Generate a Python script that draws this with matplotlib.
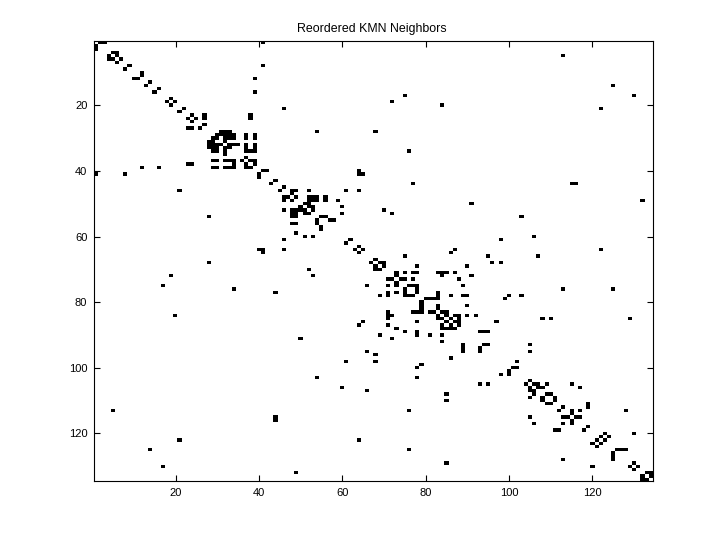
import numpy as np
import matplotlib
matplotlib.use("Agg")
import matplotlib.pyplot as plt

plt.rcParams['font.family'] = ['Liberation Sans', 'DejaVu Sans']

size = 134
title_text = "Reordered KMN Neighbors"
tick_values = [20, 40, 60, 80, 100, 120]

links_a = [(1,2),(1,3),(1,41),(4,5),(4,6),(5,6),(6,7),(8,9),(8,41),(10,12),(11,12),(12,39),
           (13,14),(15,16),(16,39),(18,19),(19,20),(21,22),(23,24),(24,25),(23,27),(24,27),(26,27),
           (23,38),(24,38),(5,113),(14,125),(17,75),(17,130),(19,72),(20,84),(21,46),(21,122),
           (28,54),(28,68),(34,76),(40,64),(41,64),(41,65),(44,77),(44,115),(44,116),(43,44),
           (40,41),(40,42)]
links_b = [(28,31),(28,32),(28,33),(29,30),(29,31),(29,32),(29,33),(29,34),(30,30),(30,32),(30,33),(30,34),
           (31,32),(32,33),(32,34),(32,35),(33,33),(29,37),(30,37),(32,37),(33,37),(34,37),
           (29,39),(30,39),(32,39),(33,39),(34,39),(34,38),(36,37),(37,38),(38,39),(37,39)]
links_c = [(45,46),(46,48),(46,49),(46,52),(46,61),(46,64),(47,48),(48,49),(48,52),(48,53),(48,54),(48,56),
           (49,52),(49,53),(49,54),(49,56),(49,59),(50,51),(50,52),(51,52),(51,53),(52,53),(51,60),(53,60),
           (52,70),(53,72),(54,55),(54,56),(55,57),(55,58),(61,62),(63,64),(64,65),(64,87),(65,86),(66,75),
           (49,132),(50,91),(54,103),(60,106),(61,98),(66,95),(66,107),(68,96),(68,98),(69,90),(72,91),
           (75,89),(76,113),(76,125),(78,89),(78,90),(78,100),(78,103),(79,99),(81,90),(84,90),(84,92),
           (86,97),(85,108),(85,110),(85,129),(69,78),(64,122)]
links_d = [(67,68),(68,69),(68,70),(69,70),(71,73),(71,75),(71,77),(71,78),(72,73),(73,74),(73,75),(73,77),
           (75,76),(75,77),(75,78),(76,78),(77,78),(79,80),(79,81),(79,82),(79,83),(71,83),(77,83),(78,83),
           (81,83),(82,83),(71,84),(71,85),(72,84),(71,87),(73,88),(78,86),(83,84),(83,85),(84,85),(85,86),
           (84,87),(85,88),(86,87),(87,88),(86,88),(84,88),(89,93),(89,94),(89,95),(93,94),(93,95),
           (93,105),(95,105)]
links_e = [(98,102),(100,101),(100,102),(104,105),(105,106),(105,107),(106,107),(106,108),(105,109),(105,115),
           (106,117),(108,109),(108,110),(109,111),(110,111),(112,113),(113,115),(113,117),(111,119),(112,119),
           (113,128),(114,115),(115,116),(115,117),(118,119),(120,130),(120,123),(121,122),(121,124),(122,123),
           (125,126),(125,127),(125,128),(129,130),(130,131),(132,133),(132,134),(133,134)]

grid = np.zeros((size, size), dtype=float)
for a, b in links_a + links_b + links_c + links_d + links_e:
    grid[a - 1, b - 1] = 1
    grid[b - 1, a - 1] = 1

fig = plt.figure(figsize=(7.2, 5.4), dpi=100, facecolor='white')
ax = fig.add_axes([94.3 / 720, 1 - 481 / 540, (652.7 - 94.3) / 720, (481 - 41.3) / 540])
ax.imshow(grid, cmap='gray_r', vmin=0, vmax=1, interpolation='nearest', aspect='auto',
          extent=(0.5, size + 0.5, size + 0.5, 0.5))
ax.set_xticks(tick_values)
ax.set_yticks(tick_values)
ax.tick_params(direction='in', length=4, width=0.8, labelsize=8, top=True, right=True, pad=5, color='black')
for s in ax.spines.values():
    s.set_linewidth(0.8)
ax.set_title(title_text, fontsize=8.9, pad=7, x=(371.5 - 94.3) / 558.4)
fig.savefig("out.png", dpi=100)
